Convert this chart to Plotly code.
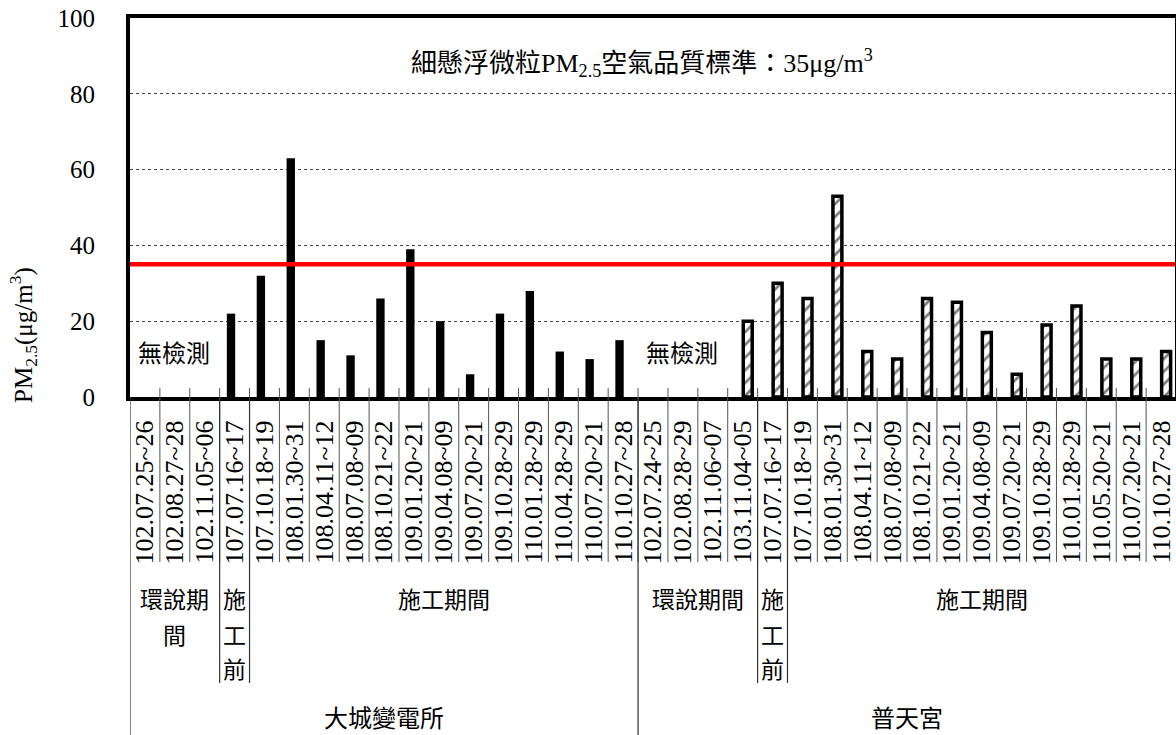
import plotly.graph_objects as go

# ---------------- data ----------------
site_names = ["大城變電所", "普天宮"]

site1_dates = ["102.07.25~26", "102.08.27~28", "102.11.05~06", "107.07.16~17",
               "107.10.18~19", "108.01.30~31", "108.04.11~12", "108.07.08~09",
               "108.10.21~22", "109.01.20~21", "109.04.08~09", "109.07.20~21",
               "109.10.28~29", "110.01.28~29", "110.04.28~29", "110.07.20~21",
               "110.10.27~28"]
site1_values = [None, None, None, 22, 32, 63, 15, 11, 26, 39, 20, 6, 22, 28, 12, 10, 15]

site2_dates = ["102.07.24~25", "102.08.28~29", "102.11.06~07", "103.11.04~05",
               "107.07.16~17", "107.10.18~19", "108.01.30~31", "108.04.11~12",
               "108.07.08~09", "108.10.21~22", "109.01.20~21", "109.04.08~09",
               "109.07.20~21", "109.10.28~29", "110.01.28~29", "110.05.20~21",
               "110.07.20~21", "110.10.27~28"]
site2_values = [None, None, None, 20, 30, 26, 53, 12, 10, 26, 25, 17, 6, 19, 24, 10, 10, 12]

# period groups per site: (label lines, number of sampling campaigns)
site1_periods = [(["環說期", "間"], 3), (["施", "工", "前"], 1), (["施工期間"], 13)]
site2_periods = [(["環說期間"], 4), (["施", "工", "前"], 1), (["施工期間"], 13)]

standard_value = 35
no_data_text = "無檢測"
y_title = "PM<sub>2.5</sub>(μg/m<sup>3</sup>)"
standard_text = "細懸浮微粒PM<sub>2.5</sub>空氣品質標準：35μg/m<sup>3</sup>"
y_ticks = [0, 20, 40, 60, 80, 100]

# ---------------- build ----------------
n1, n2 = len(site1_dates), len(site2_dates)
N = n1 + n2
x1 = list(range(n1))
x2 = list(range(n1, N))
all_dates = site1_dates + site2_dates

LATIN = "Liberation Serif, Times New Roman, serif"
CJK = "Noto Sans CJK TC"
MIXED = "Liberation Serif, Noto Sans CJK TC"

W, H = 1176, 735
L, R, T, B = 130, 0, 18, 338
plot_h = H - T - B
LINE_Y = [598, 634, 668]   # pixel centres of stacked period-label lines

def py(px):
    """pixel y (from top) -> paper y"""
    return (H - B - px) / plot_h

fig = go.Figure()

fig.add_trace(go.Bar(
    x=x1, y=site1_values, name=site_names[0],
    width=0.28, offset=-0.26,
    marker=dict(color="black", line=dict(width=0)),
    showlegend=False, hoverinfo="x+y",
))
fig.add_trace(go.Bar(
    x=x2, y=site2_values, name=site_names[1],
    width=0.30, offset=0.02,
    marker=dict(color="white",
                line=dict(color="black", width=3.5),
                pattern=dict(shape="/", fgcolor="black", bgcolor="white",
                             size=9, solidity=0.3)),
    showlegend=False, hoverinfo="x+y",
))

shapes = []
# standard line
shapes.append(dict(type="line", xref="paper", yref="y", x0=0, x1=1,
                   y0=standard_value, y1=standard_value,
                   line=dict(color="#ff0000", width=4.5), layer="above"))
# thin right frame
shapes.append(dict(type="line", xref="paper", yref="paper", x0=1, x1=1, y0=0, y1=1,
                   line=dict(color="black", width=2)))
# separators between sampling campaigns (label zone)
for k in range(1, N):
    shapes.append(dict(type="line", xref="x", yref="paper",
                       x0=k - 0.5, x1=k - 0.5, y0=py(388), y1=py(562),
                       line=dict(color="#555555", width=1), layer="above"))

annotations = []
def add_site(start, count, periods, name):
    # site boundary lines
    shapes.append(dict(type="line", xref="x", yref="paper",
                       x0=start - 0.5, x1=start - 0.5, y0=0, y1=py(735),
                       line=dict(color="#333333", width=1.2)))
    pos = start
    for i, (lines, cnt) in enumerate(periods):
        if i > 0:
            shapes.append(dict(type="line", xref="x", yref="paper",
                               x0=pos - 0.5, x1=pos - 0.5, y0=0, y1=py(683),
                               line=dict(color="#333333", width=1.2)))
        for j, txt in enumerate(lines):
            annotations.append(dict(
                x=pos + (cnt - 1) / 2, y=py(LINE_Y[j]), xref="x", yref="paper",
                text=txt, showarrow=False, yanchor="middle", xanchor="center",
                font=dict(family=CJK, size=23, color="black")))
        pos += cnt
    annotations.append(dict(
        x=start + (count - 1) / 2, y=py(716), xref="x", yref="paper",
        text=name, showarrow=False, yanchor="middle", xanchor="center",
        font=dict(family=CJK, size=24, color="black")))
    annotations.append(dict(
        x=start - 0.5 + 0.2, y=12, xref="x", yref="y",
        text=no_data_text, showarrow=False, xanchor="left", yanchor="middle",
        font=dict(family=CJK, size=24, color="black")))

add_site(0, n1, site1_periods, site_names[0])
add_site(n1, n2, site2_periods, site_names[1])

annotations.append(dict(
    x=(642 - L) / (W - L - R), y=py(63), xref="paper", yref="paper", text=standard_text,
    showarrow=False, xanchor="center", yanchor="middle",
    font=dict(family=MIXED, size=26, color="black")))
annotations.append(dict(
    x=(23 - L) / (W - L - R), y=py(335), xref="paper", yref="paper",
    text=y_title, textangle=-90, showarrow=False,
    xanchor="center", yanchor="middle",
    font=dict(family=LATIN, size=25, color="black")))

fig.update_layout(
    width=W, height=H,
    margin=dict(l=L, r=R, t=T, b=B),
    paper_bgcolor="white", plot_bgcolor="white",
    barmode="overlay",
    shapes=shapes, annotations=annotations,
    font=dict(family=LATIN, color="black"),
)
fig.update_xaxes(
    range=[-0.5, N - 0.5],
    tickmode="array", tickvals=list(range(N)), ticktext=all_dates,
    tickangle=-90, tickfont=dict(family=LATIN, size=26, color="black"),
    ticks="", ticklabelstandoff=9,
    showline=True, linecolor="black", linewidth=4, mirror=True,
    showgrid=False, zeroline=False, fixedrange=True,
)
fig.update_yaxes(
    range=[0, 100], tickmode="array", tickvals=y_ticks,
    tickfont=dict(family=LATIN, size=25, color="black"),
    ticks="", ticklabelstandoff=26,
    showline=True, linecolor="black", linewidth=4,
    showgrid=True, gridcolor="#444444", gridwidth=1, griddash="dot",
    zeroline=False, fixedrange=True,
)

fig.write_html("out.html", config={"displayModeBar": False},
               post_script="document.body.style.margin='0';document.body.style.overflow='hidden';")
